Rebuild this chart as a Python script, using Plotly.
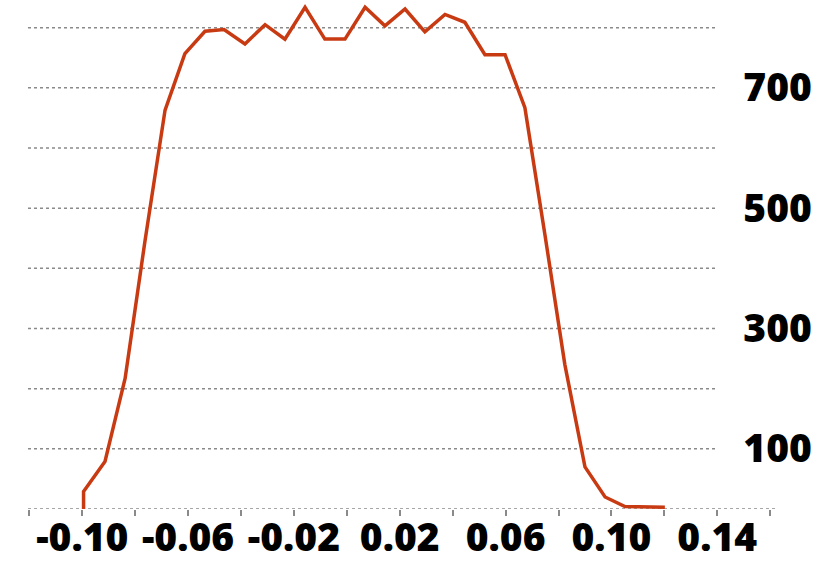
import plotly.graph_objects as go

# values
x_vals = [-0.0995, -0.0995, -0.0914, -0.0838, -0.0763, -0.0687, -0.0612,
          -0.0536, -0.0464, -0.0385, -0.0309, -0.0234, -0.0158, -0.0083,
          -0.0007, 0.0069, 0.0144, 0.0220, 0.0295, 0.0371, 0.0446, 0.0522,
          0.0598, 0.0673, 0.0749, 0.0824, 0.0900, 0.0976, 0.1051, 0.1127,
          0.1202]
counts = [0, 29, 79, 217, 445, 663, 757, 794, 797, 773, 805, 781, 834, 781,
          781, 834, 803, 831, 793, 822, 809, 755, 755, 667, 455, 240, 70, 20,
          4, 3, 3]

x_ticks = [-0.12, -0.10, -0.08, -0.06, -0.04, -0.02, 0.0, 0.02, 0.04, 0.06,
           0.08, 0.10, 0.12, 0.14, 0.16]
x_labels = ['', '-0.10', '', '-0.06', '', '-0.02', '', '0.02', '', '0.06',
            '', '0.10', '', '0.14', '']
y_ticks = [100, 300, 500, 700]
y_labels = ['100', '300', '500', '700']
grid_levels = [100, 200, 300, 400, 500, 600, 700, 800]

LINE = '#c83a12'
GRID = '#8a8a8a'
FONT = dict(family='Open Sans', size=39, color='black', weight=800)

fig = go.Figure()
fig.add_trace(go.Scatter(x=x_vals, y=counts, mode='lines',
                         line=dict(color=LINE, width=3.5),
                         hoverinfo='skip', showlegend=False))

# dotted gridlines stop short of the labels, the zero line runs the full width
shapes = []
for g in grid_levels:
    shapes.append(dict(type='line', xref='paper', yref='y', x0=0, x1=0.922,
                       y0=g, y1=g, layer='below',
                       line=dict(color=GRID, width=1.5, dash='dot')))
shapes.append(dict(type='line', xref='paper', yref='y', x0=0, x1=1,
                   y0=0, y1=0, layer='below',
                   line=dict(color=GRID, width=1.5, dash='dot')))

fig.update_layout(
    width=830, height=578,
    margin=dict(l=28, r=54, t=0, b=69),
    paper_bgcolor='white', plot_bgcolor='white',
    shapes=shapes,
    xaxis=dict(range=[-0.1205, 0.1622], tickvals=x_ticks, ticktext=x_labels,
               ticks='outside', ticklen=6, tickwidth=1.5, tickcolor=GRID,
               showgrid=False, zeroline=False, showline=False,
               tickfont=FONT, automargin=False, ticklabelstandoff=-12),
    yaxis=dict(range=[0, 846], tickvals=y_ticks, ticktext=y_labels,
               side='right', anchor='free', position=0.955,
               showgrid=False, zeroline=False, showline=False, ticks='',
               tickfont=FONT, automargin=False),
)

# the page's default body margin would shift the figure by 8px
fig.write_html("out.html", config={'displayModeBar': False},
               post_script="document.body.style.margin='0';")
